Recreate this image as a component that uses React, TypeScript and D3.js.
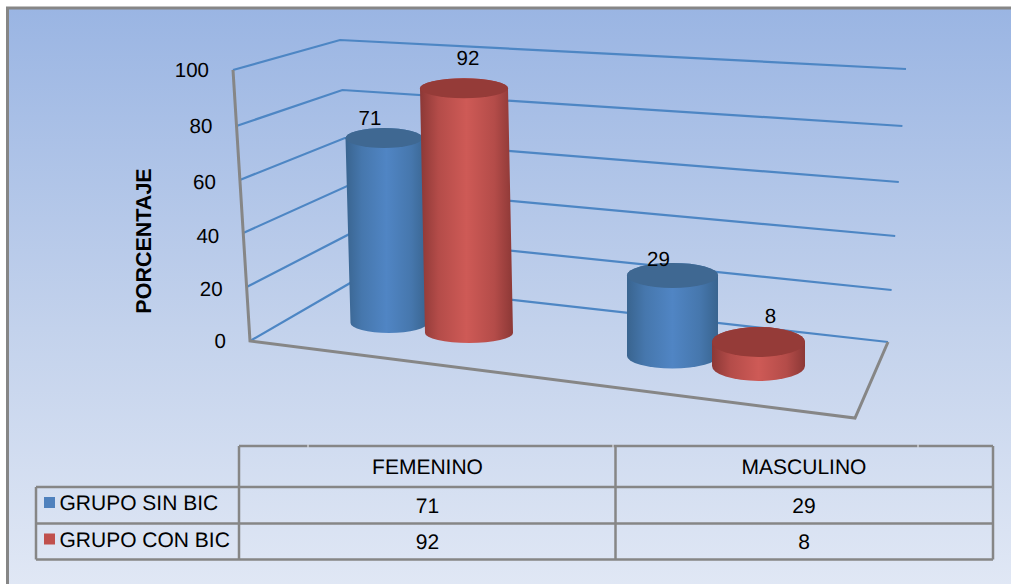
import React from "react";
import * as d3 from "d3";

const categories = ["FEMENINO", "MASCULINO"];
const seriesNames = ["GRUPO SIN BIC", "GRUPO CON BIC"];
const sinBic = [71, 29];
const conBic = [92, 8];
const yTicks = [0, 20, 40, 60, 80, 100];

const W = 1011;
const H = 584;
const FONT = "'Liberation Sans', Arial, sans-serif";

// Wall corners as functions of the value axis.
const v = d3.scaleLinear().domain([0, 100]);
const vTicks = d3.scaleLinear().domain(yTicks);
const frontLeftX = v.copy().range([250, 233]);
const frontLeftY = vTicks.copy().range([341, 287, 233, 180, 126, 70]);
const backLeftX = v.copy().range([352, 340]);
const backLeftY = vTicks.copy().range([282, 234, 186, 138, 90, 40]);
const backRightX = v.copy().range([888, 906]);
const backRightY = vTicks.copy().range([342, 290, 236, 182, 126, 69]);
const tickLabelY = vTicks.copy().range([341, 289, 236, 182, 126, 70]);

// Placement of each cylinder: category, series, floor centre, lean, radii, height of 100 units.
const placements = [
  { c: 0, s: 0, cx: 389, cy: 323, lean: -5, rx: 38.5, ry: 10, full: 260.5 },
  { c: 0, s: 1, cx: 469, cy: 333, lean: -5, rx: 44, ry: 10, full: 266 },
  { c: 1, s: 0, cx: 672.5, cy: 356, lean: 0, rx: 45.5, ry: 12.5, full: 278 },
  { c: 1, s: 1, cx: 758.5, cy: 366, lean: 0, rx: 46.5, ry: 15, full: 300 },
];
const seriesValues = [sinBic, conBic];
const palette = [
  { edge: "#39648f", inner: "#4677ad", mid: "#5085c4", cap: "#3f6892", key: "#4f81bd" },
  { edge: "#8c3836", inner: "#b44c49", mid: "#ce5a56", cap: "#953b38", key: "#c0504d" },
];

function cylinderPath(cx: number, baseY: number, topCx: number, topY: number, rx: number, ry: number) {
  return `M${topCx - rx},${topY} L${cx - rx},${baseY} A${rx},${ry} 0 0 0 ${cx + rx},${baseY} L${topCx + rx},${topY} A${rx},${ry} 0 0 0 ${topCx - rx},${topY} Z`;
}

export default function App() {
  const gridStroke = "#4d86c4";
  const axisStroke = "#868686";
  const rowLines = [446, 487, 523.5, 559.5];
  const tableLeft = 239;
  const tableMid = 615.5;
  const tableRight = 993;
  const legendLeft = 36;
  const cellX = [427.5, 804];
  const tableGaps = [308, 613, 918];
  const textStyle = { fontFamily: FONT, fontSize: 20.5, fill: "#000" };
  const tableText = { fontFamily: FONT, fontSize: 21, fill: "#000" };

  return (
    <svg
      width={W}
      height={H}
      viewBox={`0 0 ${W} ${H}`}
      textRendering="geometricPrecision"
      style={{ position: "absolute", left: 0, top: 0, display: "block" }}
    >
      <defs>
        <linearGradient id="backdrop" x1="0" y1="0" x2="0" y2="1">
          <stop offset="0" stopColor="#9ab5e3" />
          <stop offset="0.55" stopColor="#c3d2ec" />
          <stop offset="1" stopColor="#e1e8f5" />
        </linearGradient>
        {palette.map((p, i) => (
          <linearGradient key={i} id={`cyl${i}`} x1="0" y1="0" x2="1" y2="0">
            <stop offset="0" stopColor={p.edge} />
            <stop offset="0.2" stopColor={p.inner} />
            <stop offset="0.5" stopColor={p.mid} />
            <stop offset="0.8" stopColor={p.inner} />
            <stop offset="1" stopColor={p.edge} />
          </linearGradient>
        ))}
      </defs>

      <rect x={0} y={0} width={W} height={H} fill="#fff" />
      <rect x={7.5} y={8} width={W} height={H} fill="url(#backdrop)" stroke={axisStroke} strokeWidth={3} />

      {/* value gridlines on the side and back walls */}
      {yTicks.map((t) => (
        <polyline
          key={t}
          points={`${frontLeftX(t)},${frontLeftY(t)} ${backLeftX(t)},${backLeftY(t)} ${backRightX(t)},${backRightY(t)}`}
          fill="none"
          stroke={gridStroke}
          strokeWidth={2.2}
        />
      ))}

      {/* floor and value axis */}
      <polyline
        points={`${frontLeftX(100)},${frontLeftY(100)} ${frontLeftX(0)},${frontLeftY(0)} 855,418 ${backRightX(0)},${backRightY(0)}`}
        fill="none"
        stroke={axisStroke}
        strokeWidth={3}
      />

      {yTicks.map((t) => (
        <text
          key={t}
          x={frontLeftX(t) - 24}
          y={tickLabelY(t) + 7}
          textAnchor="end"
          style={textStyle}
        >
          {t}
        </text>
      ))}

      <text
        transform="translate(151,241) rotate(-90)"
        textAnchor="middle"
        style={{ fontFamily: FONT, fontSize: 21.5, fontWeight: 700, fill: "#000" }}
      >
        PORCENTAJE
      </text>

      {/* cylinders */}
      {placements.map((p, i) => {
        const value = seriesValues[p.s][p.c];
        const height = d3.scaleLinear().domain([0, 100]).range([0, p.full]);
        const topY = p.cy - height(value);
        const topCx = p.cx + p.lean;
        const colour = palette[p.s];
        return (
          <g key={i}>
            <path
              d={cylinderPath(p.cx, p.cy, topCx, topY, p.rx, p.ry)}
              fill={`url(#cyl${p.s})`}
            />
            <ellipse cx={topCx} cy={topY} rx={p.rx} ry={p.ry} fill={colour.cap} />
          </g>
        );
      })}

      {/* value labels above each cylinder */}
      {[
        { p: placements[0], dx: -14, dy: -13 },
        { p: placements[1], dx: 4, dy: -23 },
        { p: placements[2], dx: -14, dy: -9 },
        { p: placements[3], dx: 12, dy: -19 },
      ].map(({ p, dx, dy }, i) => {
        const value = seriesValues[p.s][p.c];
        const height = d3.scaleLinear().domain([0, 100]).range([0, p.full]);
        return (
          <text
            key={i}
            x={p.cx + p.lean + dx}
            y={p.cy - height(value) + dy}
            textAnchor="middle"
            style={textStyle}
          >
            {value}
          </text>
        );
      })}

      {/* data table */}
      <g fill="none" stroke={axisStroke} strokeWidth={2.5}>
        <line x1={tableLeft} x2={tableRight} y1={rowLines[0]} y2={rowLines[0]} />
        <line x1={legendLeft} x2={tableRight} y1={rowLines[1]} y2={rowLines[1]} />
        <line x1={legendLeft} x2={tableRight} y1={rowLines[2]} y2={rowLines[2]} />
        <line x1={legendLeft} x2={tableRight} y1={rowLines[3]} y2={rowLines[3]} />
        <line x1={legendLeft} x2={legendLeft} y1={rowLines[1]} y2={rowLines[3]} />
        <line x1={tableLeft} x2={tableLeft} y1={rowLines[0]} y2={rowLines[3]} />
        <line x1={tableMid} x2={tableMid} y1={rowLines[0]} y2={rowLines[3]} />
        <line x1={tableRight} x2={tableRight} y1={rowLines[0]} y2={rowLines[3]} />
      </g>
      {tableGaps.map((x) => (
        <line key={x} x1={x} x2={x} y1={rowLines[0] - 1.5} y2={rowLines[0] + 1.5} stroke="#f0f3fa" strokeWidth={1} />
      ))}

      {categories.map((c, i) => (
        <text key={c} x={cellX[i]} y={474} textAnchor="middle" style={tableText}>
          {c}
        </text>
      ))}

      {seriesNames.map((name, s) => {
        const rowY = rowLines[s + 1];
        return (
          <g key={name}>
            <rect x={44} y={rowY + 10} width={11} height={11} fill={palette[s].key} />
            <text x={59.5} y={rowY + 23} style={tableText}>
              {name}
            </text>
            {seriesValues[s].map((val, c) => (
              <text key={c} x={cellX[c]} y={rowY + 25.7} textAnchor="middle" style={tableText}>
                {val}
              </text>
            ))}
          </g>
        );
      })}
    </svg>
  );
}
